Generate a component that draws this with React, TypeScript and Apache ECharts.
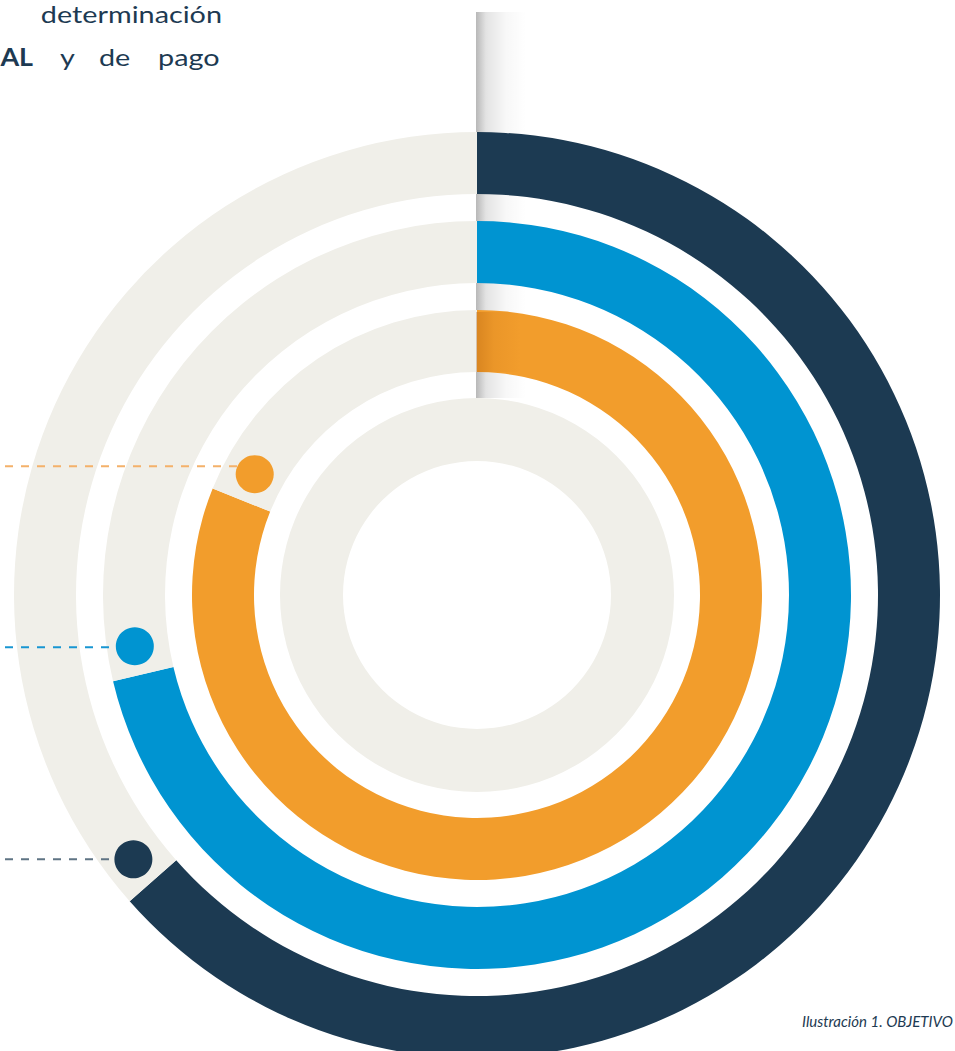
import React, { useEffect, useRef } from "react";
import * as echarts from "echarts";

// ---- data ----
const categories = ["Anillo exterior", "Anillo medio", "Anillo interior"];
const values = [63.5, 71.3, 81.1]; // percent of the full circle
const ringColors = ["#1c3a52", "#0094d1", "#f29d2c"];
const dashColors = ["#5f7484", "#1896d2", "#f4b16a"];
const trackColor = "#f0efe9";
const textColor = "#1d3a52";

// texts
const topLine = "determinación";
const secondLineBold = "AL";
const secondLineWords = ["y", "de", "pago"];
const caption = "Ilustración 1. OBJETIVO";

// ---- layout ----
const W = 955;
const H = 1051;
const CX = 477;
const CY = 595;
const ringRadii: [number, number][] = [
  [401, 463],
  [312, 374],
  [223, 285],
];
const innerTrack: [number, number] = [134, 197];
const DOT_R = 19;
const DOT_ARC_OFFSET = 29;
const dotRadialShift = [1.5, 3, -1];
const leaderOffsetY = [0, 1, -8];

export default function App() {
  const ref = useRef<HTMLDivElement>(null);

  useEffect(() => {
    if (!ref.current) return;
    const chart = echarts.init(ref.current, undefined, { renderer: "svg" });

    const series: any[] = values.map((v, i) => ({
      type: "pie",
      name: categories[i],
      center: [CX, CY],
      radius: ringRadii[i],
      startAngle: 90,
      clockwise: true,
      silent: true,
      z: 2,
      label: { show: false },
      labelLine: { show: false },
      emphasis: { disabled: true },
      itemStyle: { borderWidth: 0 },
      data: [
        { value: v, name: categories[i], itemStyle: { color: ringColors[i] } },
        { value: 100 - v, name: "resto", itemStyle: { color: trackColor } },
      ],
    }));
    series.push({
      type: "pie",
      name: "centro",
      center: [CX, CY],
      radius: innerTrack,
      startAngle: 90,
      silent: true,
      z: 2,
      label: { show: false },
      labelLine: { show: false },
      emphasis: { disabled: true },
      itemStyle: { borderWidth: 0 },
      data: [{ value: 100, name: "centro", itemStyle: { color: trackColor } }],
    });

    const graphics: any[] = [];
    // fold shadow (under rings)
    graphics.push({
      type: "rect",
      z: 0,
      silent: true,
      shape: { x: CX - 1, y: 12, width: 50, height: 386 },
      style: {
        fill: new echarts.graphic.LinearGradient(0, 0, 1, 0, [
          { offset: 0, color: "rgba(0,0,0,0.28)" },
          { offset: 0.2, color: "rgba(0,0,0,0.11)" },
          { offset: 0.6, color: "rgba(0,0,0,0.03)" },
          { offset: 1, color: "rgba(0,0,0,0)" },
        ]),
      },
    });
    // shadow over the orange band
    graphics.push({
      type: "rect",
      z: 100,
      silent: true,
      shape: {
        x: CX - 1,
        y: CY - ringRadii[2][1] + 2,
        width: 45,
        height: ringRadii[2][1] - ringRadii[2][0] - 2,
      },
      style: {
        fill: new echarts.graphic.LinearGradient(0, 0, 1, 0, [
          { offset: 0, color: "rgba(150,70,0,0.28)" },
          { offset: 0.4, color: "rgba(150,70,0,0.08)" },
          { offset: 1, color: "rgba(150,70,0,0)" },
        ]),
      },
    });

    // dots and dashed leader lines
    values.forEach((v, i) => {
      const rMid = (ringRadii[i][0] + ringRadii[i][1]) / 2 + dotRadialShift[i];
      const deg = (v / 100) * 360 + (DOT_ARC_OFFSET / rMid) * (180 / Math.PI);
      const rad = (deg * Math.PI) / 180;
      const cx = CX + rMid * Math.sin(rad);
      const cy = CY - rMid * Math.cos(rad);
      const dy = leaderOffsetY[i];
      const ly = cy + dy;
      const x2 = cx - Math.sqrt(DOT_R * DOT_R - dy * dy);
      graphics.push({
        type: "line",
        z: 100,
        silent: true,
        shape: { x1: 5, y1: ly, x2, y2: ly },
        style: { stroke: dashColors[i], lineWidth: 2, lineDash: [8, 8] },
      });
      graphics.push({
        type: "circle",
        z: 101,
        silent: true,
        shape: { cx, cy, r: DOT_R },
        style: { fill: ringColors[i] },
      });
    });

    const bodyFont = "Lato";
    const sx = 1.2;
    graphics.push({
      type: "text",
      z: 100,
      x: 222,
      y: 14,
      scaleX: sx,
      style: {
        text: topLine,
        fill: textColor,
        fontSize: 24,
        fontFamily: bodyFont,
        align: "right",
        verticalAlign: "middle",
      },
    });
    graphics.push({
      type: "text",
      z: 100,
      x: 33,
      y: 57,
      scaleX: 1.12,
      style: {
        text: secondLineBold,
        fill: textColor,
        fontSize: 24,
        fontWeight: "bold",
        fontFamily: bodyFont,
        align: "right",
        verticalAlign: "middle",
      },
    });
    const wordX = [60, 99, 158];
    secondLineWords.forEach((w, i) => {
      graphics.push({
        type: "text",
        z: 100,
        x: wordX[i],
        y: 57,
        scaleX: sx,
        style: {
          text: w,
          fill: textColor,
          fontSize: 24,
          fontFamily: bodyFont,
          align: "left",
          verticalAlign: "middle",
        },
      });
    });
    graphics.push({
      type: "text",
      z: 100,
      x: 802,
      y: 1021,
      style: {
        text: caption,
        fill: textColor,
        fontSize: 15,
        fontStyle: "italic",
        fontFamily: bodyFont,
        align: "left",
        verticalAlign: "middle",
      },
    });

    chart.setOption({
      animation: false,
      backgroundColor: "#ffffff",
      series,
      graphic: { elements: graphics },
    });

    return () => chart.dispose();
  }, []);

  return (
    <div
      ref={ref}
      style={{ position: "absolute", left: 0, top: 0, width: W, height: H }}
    />
  );
}
